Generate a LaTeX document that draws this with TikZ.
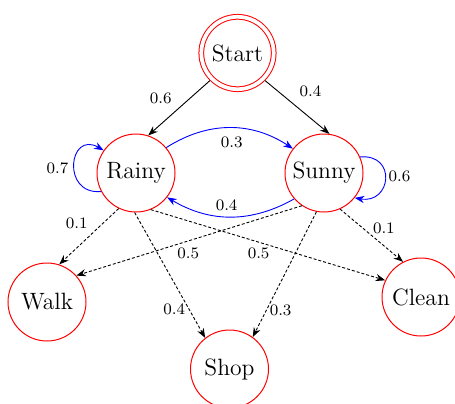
\documentclass[tikz,border=0pt]{standalone}
\usetikzlibrary{arrows.meta}
\begin{document}
\begin{tikzpicture}[x=0.5pt,y=-0.5pt,
  state/.style={circle, draw=red, line width=0.5pt, minimum size=39pt, inner sep=0pt,
    font=\fontsize{11.8}{14}\selectfont},
  startstate/.style={state, double, double distance=1.85pt, minimum size=36.2pt, outer sep=1.4pt},
  arr/.style={-{Stealth[length=4.8pt,width=3.6pt]}, line width=0.45pt},
  solidarr/.style={arr, black},
  dasharr/.style={arr, black, dash pattern=on 1.5pt off 1pt},
  bluearr/.style={arr, blue},
  lbl/.style={font=\footnotesize, inner sep=0pt, text=black}]
\useasboundingbox (0,0) rectangle (455,403);

% states
\node[startstate] (start) at (237.5,53) {Start};
\node[state] (rainy) at (136,173) {Rainy};
\node[state] (sunny) at (324,173) {Sunny};
\node[state] (walk)  at (47,302)  {Walk};
\node[state] (shop)  at (229.5,369) {Shop};
\node[state] (clean) at (421,297) {Clean};

% initial probabilities
\draw[solidarr] (start.225) -- node[lbl, shift={(-18.3,-9.2)}] {0.6} (rainy.72);
\draw[solidarr] (start.-45) -- node[lbl, shift={(13.2,-15.7)}] {0.4} (sunny.82);

% transitions between hidden states
\draw[bluearr] (rainy.40) to[bend left=33] node[lbl, shift={(2,14.4)}] {0.3} (sunny.142);
\draw[bluearr] (sunny.221) to[bend left=30] node[lbl, shift={(-3.8,-11.2)}] {0.4} (rainy.-38);
\draw[bluearr] (rainy.208) to[out=185,in=150,looseness=2.5] node[lbl, shift={(-16.7,3.6)}] {0.7} (rainy.145);
\draw[bluearr] (sunny.24) to[out=5,in=-10,looseness=2.3] node[lbl, shift={(14.6,-2.3)}] {0.6} (sunny.-39);

% emissions
\draw[dasharr] (rainy.244) -- node[lbl, shift={(-12.1,-13.4)}] {0.1} (walk.72);
\draw[dasharr] (rainy.-92) -- node[lbl, pos=0.77, shift={(-14.7,0)}] {0.4} (shop.128);
\draw[dasharr] (rainy.-68) -- node[lbl, pos=0.46, shift={(0,11.5)}] {0.5} (clean.155);
\draw[dasharr] (sunny.236) -- node[lbl, pos=0.504, shift={(0,12.3)}] {0.5} (walk.42);
\draw[dasharr] (sunny.259) -- node[lbl, pos=0.788, shift={(14.4,0)}] {0.3} (shop.54);
\draw[dasharr] (sunny.-66) -- node[lbl, shift={(12.3,-7.3)}] {0.1} (clean.117);
\end{tikzpicture}
\end{document}
